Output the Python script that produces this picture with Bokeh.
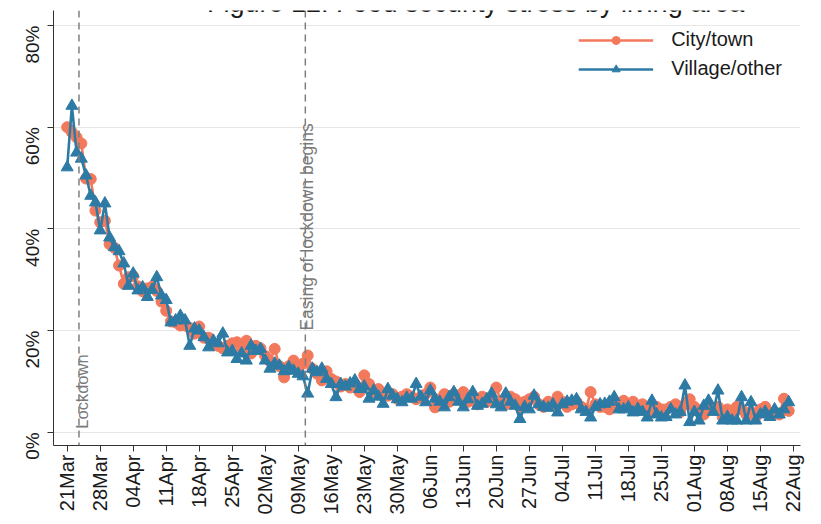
import datetime as dt
from math import pi
from bokeh.plotting import figure
from bokeh.models import Range1d, FixedTicker, DatetimeTickFormatter, PrintfTickFormatter, Span, Label
from bokeh.embed import file_html
from bokeh.resources import INLINE

# ---------------- data ----------------
start_date = dt.datetime(2020, 3, 21)

city_town = [
    60.0, 59.0, 58.0, 56.8, 49.9, 49.8, 43.6, 41.3, 41.6, 37.0,
    36.3, 32.8, 29.2, 30.5, 30.7, 28.7, 27.7, 28.3, 28.6, 27.8,
    25.7, 23.9, 21.8, 21.6, 21.0, 21.0, 20.5, 19.4, 20.8, 18.6,
    18.6, 17.3, 17.0, 16.5, 17.0, 17.5, 17.7, 16.5, 18.0, 15.5,
    17.0, 16.5, 15.0, 14.0, 16.4, 13.0, 10.8, 13.0, 14.1, 12.0,
    13.5, 15.1, 12.5, 11.5, 10.2, 12.0, 10.5, 10.0, 9.0, 9.5,
    8.8, 9.5, 7.9, 11.2, 9.5, 8.0, 8.5, 7.5, 7.2, 7.5,
    6.6, 7.0, 7.5, 7.0, 6.5, 7.0, 7.5, 8.8, 4.9, 6.5,
    7.5, 6.0, 7.5, 7.0, 7.9, 6.0, 6.5, 5.5, 7.0, 6.0,
    6.2, 8.8, 6.0, 5.5, 7.0, 6.5, 5.0, 6.0, 6.5, 7.0,
    5.5, 5.0, 6.0, 5.5, 7.0, 6.0, 5.0, 5.5, 6.0, 5.0,
    4.5, 7.9, 5.5, 5.0, 5.0, 4.5, 5.5, 5.0, 6.2, 5.5,
    6.0, 5.0, 5.5, 4.5, 4.0, 5.0, 4.5, 4.5, 5.0, 5.5,
    4.0, 5.5, 6.5, 5.0, 4.2, 3.5, 5.0, 4.5, 5.0, 3.0,
    4.5, 4.0, 5.0, 4.5, 3.5, 4.0, 3.0, 4.5, 5.0, 3.5,
    4.0, 3.5, 6.6, 4.2,
]

village_other = [
    52.1, 64.2, 55.0, 53.8, 50.5, 46.5, 45.2, 39.7, 45.0, 38.3,
    36.4, 35.6, 33.2, 28.8, 31.2, 27.9, 28.5, 26.6, 28.0, 30.5,
    26.9, 26.0, 21.6, 22.0, 22.9, 22.0, 17.0, 20.4, 20.0, 18.7,
    16.7, 18.0, 17.5, 19.4, 15.7, 16.0, 14.4, 15.5, 14.1, 17.0,
    16.0, 16.4, 14.1, 12.5, 13.5, 13.1, 12.0, 12.8, 12.1, 11.5,
    11.0, 7.6, 12.5, 11.8, 12.5, 10.5, 9.5, 6.9, 9.5, 9.0,
    9.6, 10.2, 8.5, 9.0, 6.6, 8.2, 7.0, 5.6, 8.5, 7.2,
    6.5, 5.9, 6.8, 6.6, 9.5, 7.0, 5.9, 8.2, 6.6, 6.0,
    4.9, 6.9, 7.9, 6.0, 4.9, 6.5, 7.9, 5.2, 5.6, 6.5,
    7.6, 5.5, 4.9, 7.6, 6.0, 5.2, 2.6, 5.0, 4.5, 7.2,
    5.5, 5.0, 4.8, 5.5, 3.9, 5.5, 6.0, 6.2, 6.5, 4.5,
    4.0, 2.9, 5.0, 5.5, 5.6, 6.0, 6.9, 4.5, 4.5, 4.9,
    3.9, 4.6, 4.0, 2.9, 6.2, 3.5, 2.9, 3.0, 4.5, 3.5,
    4.0, 9.2, 2.0, 4.0, 2.3, 5.2, 6.2, 4.0, 8.2, 2.3,
    3.0, 2.3, 2.3, 6.9, 2.3, 5.9, 2.3, 3.5, 4.0, 3.0,
    4.5, 3.5, 4.5, 5.9,
]

dates = [start_date + dt.timedelta(days=i) for i in range(len(city_town))]
tick_dates = [start_date + dt.timedelta(days=7 * i) for i in range(23)]  # 21Mar ... 22Aug
y_ticks = [0, 20, 40, 60, 80]

lockdown_date = dt.datetime(2020, 3, 23, 12)
easing_date = dt.datetime(2020, 5, 10, 12)
title_text = "Figure 12: Food security stress by living area"

# ---------------- helpers ----------------
EPOCH = dt.datetime(1970, 1, 1)


def ms(d):
    return (d - EPOCH).total_seconds() * 1000.0


RED = "#F3795C"
BLUE = "#2D7BA5"
FONT = "Liberation Sans"

x_start = start_date - dt.timedelta(days=2.9)
x_end = start_date + dt.timedelta(days=155.5)

p = figure(
    width=821, height=524,
    x_axis_type="datetime",
    x_range=Range1d(ms(x_start), ms(x_end)),
    y_range=Range1d(-2.6, 82.95),
    output_backend="svg",
    toolbar_location=None,
    min_border_left=53, min_border_right=21,
    min_border_top=10, min_border_bottom=79,
    background_fill_color="white", border_fill_color="white",
)
p.outline_line_color = None

# grid
p.xgrid.grid_line_color = None
p.ygrid.grid_line_color = "#e6e6e6"
p.ygrid.grid_line_width = 1

# x axis
p.xaxis.ticker = FixedTicker(ticks=[ms(d) for d in tick_dates])
fmt = "%d%b"
p.xaxis.formatter = DatetimeTickFormatter(
    milliseconds=fmt, seconds=fmt, minsec=fmt, minutes=fmt, hourmin=fmt,
    hours=fmt, days=fmt, months=fmt, years=fmt)
p.xaxis.major_label_orientation = pi / 2
p.xaxis.major_label_text_font = FONT
p.xaxis.major_label_text_font_size = "20px"
p.xaxis.major_label_text_color = "#1a1a1a"
p.xaxis.major_label_standoff = 3
p.xaxis.major_tick_out = 6
p.xaxis.major_tick_in = 0
p.xaxis.minor_tick_line_color = None

# y axis
p.yaxis.ticker = FixedTicker(ticks=y_ticks)
p.yaxis.formatter = PrintfTickFormatter(format="%d%%")
p.yaxis.major_label_orientation = pi / 2
p.yaxis.major_label_text_font = FONT
p.yaxis.major_label_text_font_size = "19px"
p.yaxis.major_label_text_color = "#1a1a1a"
p.yaxis.major_label_standoff = 15
p.yaxis.major_tick_out = 6
p.yaxis.major_tick_in = 0
p.yaxis.minor_tick_line_color = None

for ax in (p.xaxis, p.yaxis):
    ax.axis_line_color = "#333333"
    ax.major_tick_line_color = "#333333"

# event lines
for d in (lockdown_date, easing_date):
    p.add_layout(Span(location=ms(d), dimension="height", line_color="#7f7f7f",
                      line_dash="7 5", line_width=1.5))

p.add_layout(Label(x=ms(lockdown_date), y=0.7, text="Lockdown", angle=pi / 2,
                   text_align="left", text_baseline="middle", x_offset=3,
                   text_font=FONT, text_font_size="16.5px", text_color="#7a7a7a"))
p.add_layout(Label(x=ms(easing_date), y=20.0, text="Easing of lockdown begins", angle=pi / 2,
                   text_align="left", text_baseline="middle", x_offset=2,
                   text_font=FONT, text_font_size="17.5px", text_color="#7a7a7a"))

# series
p.line(dates, city_town, line_color=RED, line_width=2.6, legend_label="City/town")
p.scatter(dates, city_town, marker="circle", size=11, fill_color=RED, line_color=RED,
          legend_label="City/town")
p.line(dates, village_other, line_color=BLUE, line_width=2.6, legend_label="Village/other")
p.scatter(dates, village_other, marker="triangle", size=12, fill_color=BLUE, line_color=BLUE,
          legend_label="Village/other")

# title (partly cut off at the top, as in the original)
title_x = start_date + dt.timedelta(days=86.6)
p.add_layout(Label(x=ms(title_x), y=84.5, text=title_text, text_align="center",
                   text_baseline="alphabetic", text_font=FONT, text_font_size="27px",
                   text_color="#1a1a1a"))

# legend
lg = p.legend[0]
lg.location = "top_right"
lg.border_line_color = None
lg.background_fill_alpha = 0
lg.label_text_font = FONT
lg.label_text_font_size = "20px"
lg.label_text_color = "#1a1a1a"
lg.glyph_width = 75
lg.glyph_height = 20
lg.label_standoff = 18
lg.spacing = 6
lg.padding = 8
lg.margin = 18

open("out.html", "w").write(file_html(p, INLINE, title="Food security stress by living area"))
